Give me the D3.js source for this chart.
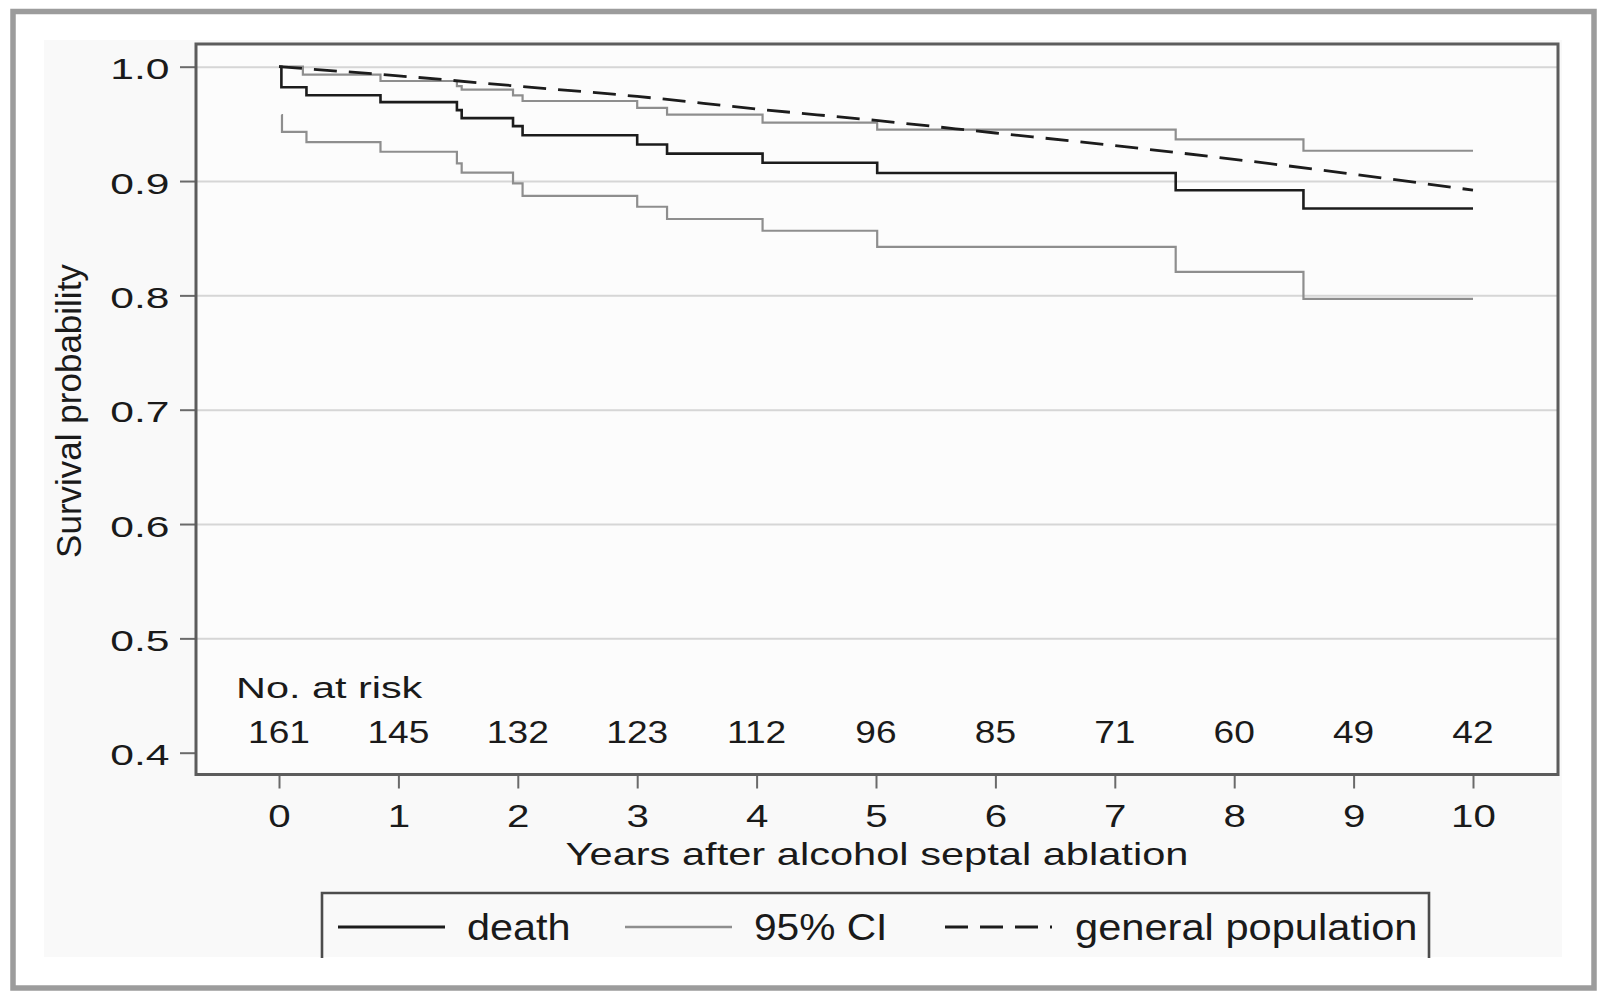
<!DOCTYPE html>
<html><head><meta charset="utf-8">
<script src="https://cdn.jsdelivr.net/npm/d3@7"></script>
<style>
html,body{margin:0;padding:0;background:#fff;}
svg{display:block;}
text{font-family:"Liberation Sans",Arial,sans-serif;fill:#1a1a1a;}
</style>
</head><body>
<svg id="chart" width="1600" height="991"></svg>
<script>
// ---------------- data ----------------
const deathTimes = [0, 0.02, 0.23, 0.85, 1.49, 1.53, 1.96, 2.04, 3.0, 3.25, 4.05, 5.01, 7.51, 8.58, 10];
const deathSurv  = [1.0, 0.982, 0.975, 0.969, 0.962, 0.955, 0.948, 0.940, 0.932, 0.924, 0.916, 0.907, 0.892, 0.876, 0.876];
const upperTimes = [0, 0.2, 0.85, 1.49, 1.53, 1.96, 2.04, 3.0, 3.25, 4.05, 5.01, 7.51, 8.58, 10];
const upperSurv  = [1.0, 0.993, 0.9875, 0.983, 0.980, 0.975, 0.970, 0.964, 0.958, 0.951, 0.945, 0.9365, 0.9265, 0.9265];
const lowerTimes = [0.02, 0.025, 0.23, 0.85, 1.49, 1.53, 1.96, 2.04, 3.0, 3.25, 4.05, 5.01, 7.51, 8.58, 10];
const lowerSurv  = [0.9577, 0.943, 0.934, 0.9256, 0.9155, 0.9073, 0.898, 0.887, 0.8775, 0.8668, 0.8565, 0.8425, 0.8206, 0.797, 0.797];
const popYears = [0, 1, 2, 3, 4, 5, 6, 7, 8, 9, 10];
const popSurv  = [1.0, 0.992, 0.983, 0.974, 0.963, 0.953, 0.942, 0.931, 0.919, 0.906, 0.892];
const riskYears  = [0, 1, 2, 3, 4, 5, 6, 7, 8, 9, 10];
const riskCounts = [161, 145, 132, 123, 112, 96, 85, 71, 60, 49, 42];
const yTickValues = [0.4, 0.5, 0.6, 0.7, 0.8, 0.9, 1.0];
const gridValues  = [0.5, 0.6, 0.7, 0.8, 0.9, 1.0];
const xTickValues = [0, 1, 2, 3, 4, 5, 6, 7, 8, 9, 10];
const legendLabels = ["death", "95% CI", "general population"];
const yTitle = "Survival probability";
const xTitle = "Years after alcohol septal ablation";
const riskTitle = "No. at risk";

// ---------------- layout ----------------
const svg = d3.select("#chart");
const frame = {left: 196, right: 1558, top: 44, bottom: 774.5};
const x = d3.scaleLinear().domain([0, 10]).range([279, 1473]);
const y = d3.scaleLinear().domain([0.4, 1.0]).range([752.7, 66.7]);

function label(g, str, tx, ty, size, anchor, sx) {
  return g.append("text")
    .attr("transform", `translate(${tx},${ty}) scale(${sx},1)`)
    .attr("text-anchor", anchor)
    .attr("font-size", size)
    .text(str);
}

// outer border + panel
svg.append("rect").attr("x", 0).attr("y", 0).attr("width", 1600).attr("height", 991).attr("fill", "#fff");
svg.append("rect").attr("x", 44).attr("y", 40).attr("width", 1518).attr("height", 917).attr("fill", "#f9f9f9");
svg.append("rect").attr("x", 13).attr("y", 11.5).attr("width", 1581).attr("height", 976.5)
  .attr("fill", "none").attr("stroke", "#9c9c9c").attr("stroke-width", 5.5);

// plot area
svg.append("rect").attr("x", frame.left).attr("y", frame.top)
  .attr("width", frame.right - frame.left).attr("height", frame.bottom - frame.top)
  .attr("fill", "#fcfcfc");

// gridlines
const grid = svg.append("g").attr("transform", `translate(${frame.left},0)`)
  .call(d3.axisLeft(y).tickValues(gridValues).tickSize(-(frame.right - frame.left)).tickFormat(""));
grid.select(".domain").remove();
grid.selectAll(".tick line").attr("stroke", "#d6d6d6").attr("stroke-width", 2);

// y axis
const yAx = svg.append("g").attr("transform", `translate(${frame.left - 1},0)`)
  .call(d3.axisLeft(y).tickValues(yTickValues).tickSize(15).tickPadding(12).tickFormat(d3.format(".1f")));
yAx.select(".domain").remove();
yAx.selectAll(".tick line").attr("stroke", "#6a6a6a").attr("stroke-width", 2);
yAx.selectAll(".tick text").each(function() {
  const t = d3.select(this);
  const tx = +t.attr("x");
  t.attr("x", null).attr("dy", null)
   .attr("transform", `translate(${tx + 1.5},12) scale(1.42,1)`)
   .attr("font-size", 30).attr("fill", null);
});
yAx.attr("font-family", null).attr("font-size", null);

// x axis
const xAx = svg.append("g").attr("transform", `translate(0,${frame.bottom})`)
  .call(d3.axisBottom(x).tickValues(xTickValues).tickSize(14).tickFormat(d3.format("d")));
xAx.select(".domain").remove();
xAx.selectAll(".tick line").attr("stroke", "#6a6a6a").attr("stroke-width", 2);
xAx.selectAll(".tick text").each(function() {
  const t = d3.select(this);
  t.attr("y", null).attr("dy", null)
   .attr("transform", `translate(0,52.5) scale(1.3,1)`)
   .attr("font-size", 31).attr("fill", null);
});
xAx.attr("font-family", null).attr("font-size", null);

// curves
const step = d3.line().x(d => x(d[0])).y(d => y(d[1])).curve(d3.curveStepAfter);
const smooth = d3.line().x(d => x(d[0])).y(d => y(d[1])).curve(d3.curveMonotoneX);
const zip = (a, b) => a.map((v, i) => [v, b[i]]);

svg.append("path").datum(zip(upperTimes, upperSurv)).attr("d", step)
  .attr("fill", "none").attr("stroke", "#8e8e8e").attr("stroke-width", 2.2);
svg.append("path").datum(zip(lowerTimes, lowerSurv)).attr("d", step)
  .attr("fill", "none").attr("stroke", "#8e8e8e").attr("stroke-width", 2.2);
svg.append("path").datum(zip(deathTimes, deathSurv)).attr("d", step)
  .attr("fill", "none").attr("stroke", "#1c1c1c").attr("stroke-width", 2.6);
svg.append("path").datum(zip(popYears, popSurv)).attr("d", smooth)
  .attr("fill", "none").attr("stroke", "#1c1c1c").attr("stroke-width", 2.8)
  .attr("stroke-dasharray", "23,12");

// frame
svg.append("rect").attr("x", frame.left).attr("y", frame.top)
  .attr("width", frame.right - frame.left).attr("height", frame.bottom - frame.top)
  .attr("fill", "none").attr("stroke", "#5c5c5c").attr("stroke-width", 3);

// risk table
label(svg, riskTitle, 236, 698, 30, "start", 1.38);
riskYears.forEach((t, i) => label(svg, String(riskCounts[i]), x(t), 743, 32, "middle", 1.16));

// titles
svg.append("text").attr("transform", `translate(81,411) rotate(-90)`)
  .attr("text-anchor", "middle").attr("font-size", 35).text(yTitle);
label(svg, xTitle, (frame.left + frame.right) / 2, 865, 32, "middle", 1.3);

// legend
const lg = svg.append("g");
lg.append("path").attr("d", "M322,958 V893 H1429 V958")
  .attr("fill", "none").attr("stroke", "#4c4c4c").attr("stroke-width", 2.6);
lg.append("line").attr("x1", 338).attr("x2", 445).attr("y1", 927).attr("y2", 927)
  .attr("stroke", "#1c1c1c").attr("stroke-width", 3);
label(lg, legendLabels[0], 467, 940, 37, "start", 1.12);
lg.append("line").attr("x1", 625).attr("x2", 732).attr("y1", 927).attr("y2", 927)
  .attr("stroke", "#8e8e8e").attr("stroke-width", 2.4);
label(lg, legendLabels[1], 754, 940, 37, "start", 1.1);
lg.append("line").attr("x1", 945).attr("x2", 1052).attr("y1", 927).attr("y2", 927)
  .attr("stroke", "#1c1c1c").attr("stroke-width", 3).attr("stroke-dasharray", "23,12");
label(lg, legendLabels[2], 1075, 940, 37, "start", 1.125);
// white strip below panel (clips legend box bottom)
svg.append("rect").attr("x", 16).attr("y", 958).attr("width", 1575).attr("height", 26).attr("fill", "#fff");
</script>
</body></html>
